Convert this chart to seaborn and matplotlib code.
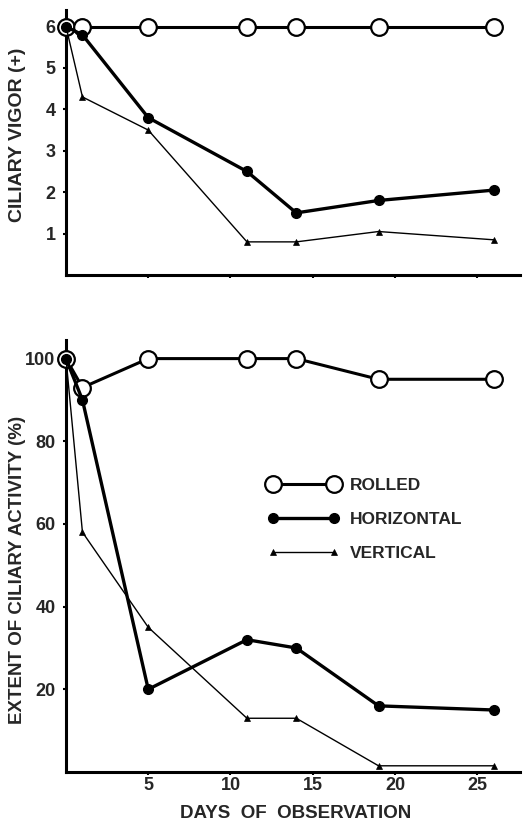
import matplotlib
matplotlib.use("Agg")
import matplotlib.pyplot as plt
from matplotlib.lines import Line2D
import seaborn as sns
import pandas as pd

days = [0, 1, 5, 11, 14, 19, 26]

vigor_rolled = [6, 6, 6, 6, 6, 6, 6]
vigor_horizontal = [6, 5.8, 3.8, 2.5, 1.5, 1.8, 2.05]
vigor_vertical = [6, 4.3, 3.5, 0.8, 0.8, 1.05, 0.85]

extent_rolled = [100, 93, 100, 100, 100, 95, 95]
extent_horizontal = [100, 90, 20, 32, 30, 16, 15]
extent_vertical = [100, 58, 35, 13, 13, 1.5, 1.5]

series_names = ["ROLLED", "HORIZONTAL", "VERTICAL"]
vigor_ticks = [1, 2, 3, 4, 5, 6]
extent_ticks = [20, 40, 60, 80, 100]
day_ticks = [5, 10, 15, 20, 25]

sns.set_theme(style="white")
plt.rcParams["font.family"] = ["Liberation Sans", "DejaVu Sans"]
plt.rcParams["font.weight"] = "bold"

styles = {
    "ROLLED": dict(marker="o", markersize=12, markerfacecolor="white",
                   markeredgecolor="black", markeredgewidth=1.6, linewidth=2.2, zorder=3),
    "HORIZONTAL": dict(marker="o", markersize=7, markerfacecolor="black",
                       markeredgecolor="black", markeredgewidth=1, linewidth=2.4, zorder=4),
    "VERTICAL": dict(marker="^", markersize=5, markerfacecolor="black",
                     markeredgecolor="black", markeredgewidth=0.5, linewidth=1.0, zorder=5),
}

fig = plt.figure(figsize=(5.27, 8.23), dpi=100)
ax1 = fig.add_axes([66 / 527, (823 - 275) / 823, (520 - 66) / 527, (275 - 10) / 823])
ax2 = fig.add_axes([66 / 527, (823 - 772) / 823, (520 - 66) / 527, (772 - 340) / 823])

def draw(ax, values):
    for name, vals in zip(series_names, values):
        df = pd.DataFrame({"day": days, "value": vals})
        sns.lineplot(data=df, x="day", y="value", ax=ax, color="black",
                     clip_on=False, **styles[name])

draw(ax1, [vigor_rolled, vigor_horizontal, vigor_vertical])
draw(ax2, [extent_rolled, extent_horizontal, extent_vertical])

for ax in (ax1, ax2):
    ax.set_xlim(0, 27.6)
    ax.set_xticks(day_ticks)
    for s in ("top", "right"):
        ax.spines[s].set_visible(False)
    for s in ("left", "bottom"):
        ax.spines[s].set_color("black")
        ax.spines[s].set_linewidth(2.2)
    ax.tick_params(axis="both", which="both", direction="out", length=2.5,
                   width=1.5, color="black", labelsize=12,
                   left=True, bottom=True)
    ax.tick_params(axis="y", pad=5)
    ax.tick_params(axis="x", pad=1)
    ax.set_xlabel("")
    ax.set_ylabel("")

ax1.set_ylim(0, 6.4)
ax1.set_yticks(vigor_ticks)
ax1.set_yticklabels([str(t) for t in vigor_ticks], fontweight="bold", fontsize=13)
ax1.set_xticklabels([])
ax1.set_ylabel("CILIARY VIGOR (+)", fontsize=14, fontweight="bold")
ax1.yaxis.set_label_coords((26 - 66) / 454, 0.528)

ax2.set_ylim(0, 104.5)
ax2.set_yticks(extent_ticks)
ax2.set_yticklabels([str(t) for t in extent_ticks], fontweight="bold", fontsize=13)
ax2.set_xticklabels([str(t) for t in day_ticks], fontweight="bold", fontsize=13)
ax2.set_ylabel("EXTENT OF CILIARY ACTIVITY (%)", fontsize=13.5, fontweight="bold")
ax2.yaxis.set_label_coords((26 - 66) / 454, 0.468)
ax2.set_xlabel("DAYS  OF  OBSERVATION", fontsize=13.5, fontweight="bold")
ax2.xaxis.set_label_coords((296 - 66) / 454, -(805 - 772) / 432)

handles = [Line2D([0], [0], color="black", **styles[n]) for n in series_names]
leg = ax2.legend(handles, series_names, loc="upper left",
                 bbox_to_anchor=(0.411, 0.7175), frameon=False, numpoints=2,
                 handlelength=4.1, labelspacing=1.1, handletextpad=0.6,
                 prop={"weight": "bold", "size": 12.5})

fig.savefig("out.png", dpi=100)
